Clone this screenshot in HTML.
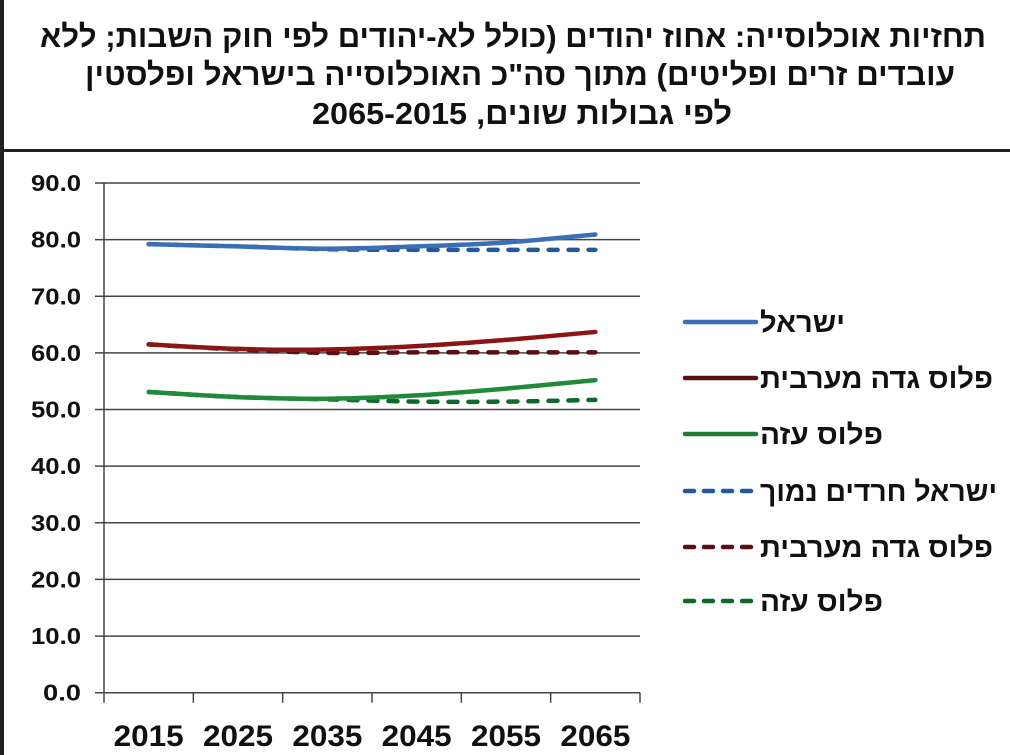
<!DOCTYPE html>
<html><head><meta charset="utf-8"><style>
html,body{margin:0;padding:0;background:#fff;}
svg{display:block;font-family:"Liberation Sans","Noto Sans CJK JP",sans-serif;}
</style></head><body>
<svg id="chart" width="1010" height="755" viewBox="0 0 1010 755" xmlns="http://www.w3.org/2000/svg">
<rect x="0" y="0" width="4" height="755" fill="#222"/>
<rect x="0" y="149" width="1010" height="3" fill="#222"/>
<g font-weight="bold" font-size="31" fill="#111" text-anchor="middle">
<text x="513" y="47" textLength="946" lengthAdjust="spacingAndGlyphs" direction="rtl">תחזיות אוכלוסייה: אחוז יהודים (כולל לא-יהודים לפי חוק השבות; ללא</text>
<text x="520" y="85" textLength="870" lengthAdjust="spacingAndGlyphs" direction="rtl">עובדים זרים ופליטים) מתוך סה"כ האוכלוסייה בישראל ופלסטין</text>
<text x="522" y="124" textLength="420" lengthAdjust="spacingAndGlyphs" direction="rtl">לפי גבולות שונים, 2065-2015</text>
</g>
<g id="grid"></g><g id="axes"></g><g id="series"></g><g id="legend"></g>
</svg>
<script>
const categories=["2015","2025","2035","2045","2055","2065"];
const yTicks=[0,10,20,30,40,50,60,70,80,90];
const israel=[79.2,78.8,78.4,78.8,79.5,80.9];
const westBank=[61.5,60.7,60.6,61.2,62.3,63.7];
const gaza=[53.1,52.2,51.9,52.5,53.7,55.2];
const israelLowHaredi=[79.2,78.8,78.3,78.2,78.2,78.2];
const westBankLow=[61.5,60.6,60.0,60.1,60.1,60.1];
const gazaLow=[53.1,52.2,51.8,51.4,51.4,51.7];
const seriesNames=["ישראל","פלוס גדה מערבית","פלוס עזה","ישראל חרדים נמוך","פלוס גדה מערבית","פלוס עזה"];

const NS="http://www.w3.org/2000/svg";
const X0=104,X1=640,Y0=692.7,YTOP=183;
const band=(X1-X0)/categories.length;
function xPos(i){return X0+band*(i+0.5);}
function yPos(v){return Y0-(v-0)/(90-0)*(Y0-YTOP);}
function mk(tag,attrs,parent){const e=document.createElementNS(NS,tag);for(const k in attrs)e.setAttribute(k,attrs[k]);parent.appendChild(e);return e;}
const grid=document.getElementById('grid'),axes=document.getElementById('axes'),ser=document.getElementById('series'),leg=document.getElementById('legend');
yTicks.forEach(t=>{
  const y=yPos(t);
  const l=mk('line',{x1:X0-9,x2:X1,y1:y,y2:y,stroke:'#444','stroke-width':1.5},grid);
  
  
  const s=t.toFixed(1);
  const tx=mk('text',{x:81,y:y+8,'text-anchor':'end','font-size':23,'font-weight':'bold',fill:'#111',textLength:s.length>3?50:38,lengthAdjust:'spacingAndGlyphs'},axes);
  tx.textContent=s;
  
  
});
const ya=mk('line',{x1:X0,x2:X0,y1:YTOP,y2:Y0,stroke:'#444','stroke-width':1.5},axes);


for(let i=0;i<=categories.length;i++){
  const x=X0+band*i;
  const tk=mk('line',{x1:x,x2:x,y1:Y0,y2:Y0+10,stroke:'#444','stroke-width':1.5},axes);
  
  
}
categories.forEach((c,i)=>{
  const tx=mk('text',{x:xPos(i),y:746,'text-anchor':'middle','font-size':30,'font-weight':'bold',fill:'#111',textLength:70,lengthAdjust:'spacingAndGlyphs'},axes);
  tx.textContent=c;
  
  
});
function smoothPath(vals){
  const p=vals.map((v,i)=>[xPos(i),yPos(v)]);
  let d='M'+p[0][0]+','+p[0][1];
  for(let i=0;i<p.length-1;i++){
    const p0=p[i-1]||p[i],p1=p[i],p2=p[i+1],p3=p[i+2]||p2;
    const c1=[p1[0]+(p2[0]-p0[0])/6,p1[1]+(p2[1]-p0[1])/6];
    const c2=[p2[0]-(p3[0]-p1[0])/6,p2[1]-(p3[1]-p1[1])/6];
    d+=' C'+c1+' '+c2+' '+p2;
  }
  return d;
}
const defs=[
  [israelLowHaredi,'#24589a',true,'line-israel-low-haredi'],
  [westBankLow,'#5a0f10',true,'line-west-bank-low'],
  [gazaLow,'#0f6a2a',true,'line-gaza-low'],
  [israel,'#3a6fb5',false,'line-israel'],
  [westBank,'#8b1414',false,'line-west-bank'],
  [gaza,'#1f8a3a',false,'line-gaza']
];
defs.forEach(([vals,col,dash,name])=>{
  const a={d:smoothPath(vals),fill:'none',stroke:col,'stroke-width':4.5,'stroke-linecap':'round'};
  if(dash){a['stroke-dasharray']='9,11';}
  const p=mk('path',a,ser);
  
  
});
const legCols=['#3a6fb5','#5a1010','#1f7a35','#24589a','#5a0f10','#0f6a2a'];
const legY=[322,378,434,491,547,601];
const legW=[85,233,123,237,233,123];
seriesNames.forEach((n,i)=>{
  const a={x1:685,x2:756,y1:legY[i],y2:legY[i],stroke:legCols[i],'stroke-width':4.5,'stroke-linecap':'round'};
  if(i>=3)a['stroke-dasharray']='9,10';
  const l=mk('line',a,leg);
  
  
  const t=mk('text',{x:760,y:legY[i]+10,'font-size':28,'font-weight':'bold',fill:'#111',textLength:legW[i],lengthAdjust:'spacingAndGlyphs'},leg);
  t.textContent=n;
  
  
});
</script>
</body></html>
